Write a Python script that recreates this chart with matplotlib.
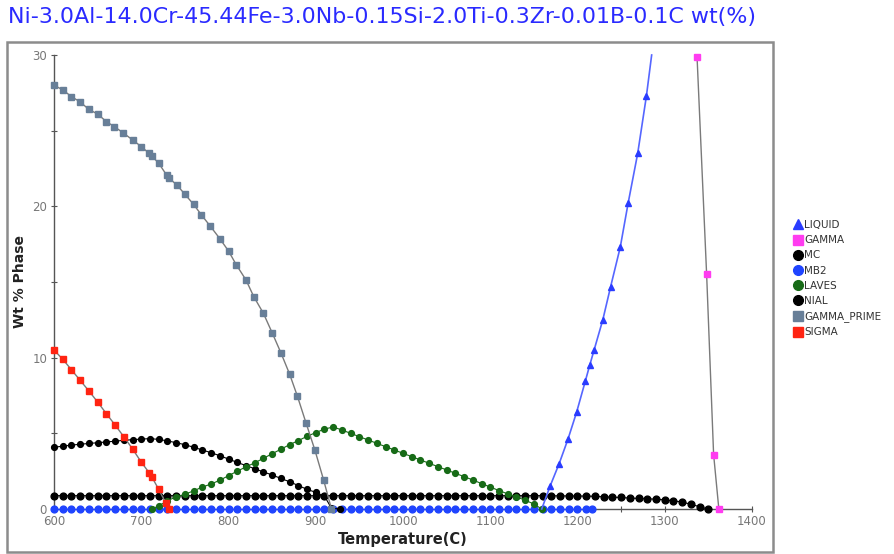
import matplotlib
matplotlib.use("Agg")
import matplotlib.pyplot as plt
from matplotlib.patches import Rectangle
from matplotlib.lines import Line2D

TITLE = "Ni-3.0Al-14.0Cr-45.44Fe-3.0Nb-0.15Si-2.0Ti-0.3Zr-0.01B-0.1C wt(%)"

# ---- phase data: temperature (C) and weight percent ----
liquid_t = [1159, 1168.5, 1179, 1189, 1199, 1209, 1214, 1219, 1229, 1238, 1249, 1258, 1269, 1279, 1285]
liquid_w = [0.0, 1.5, 3.0, 4.6, 6.4, 8.46, 9.5, 10.5, 12.5, 14.7, 17.3, 20.2, 23.5, 27.3, 30.0]

gamma_t = [1337, 1348, 1356, 1362]
gamma_w = [29.9, 15.5, 3.6, 0.0]

mc_t = [600, 610, 620, 630, 640, 650, 660, 670, 680, 690,
        700, 710, 720, 730, 740, 750, 760, 770, 780, 790,
        800, 810, 820, 830, 840, 850, 860, 870, 880, 890,
        900, 910, 920, 930, 940, 950, 960, 970, 980, 990,
        1000, 1010, 1020, 1030, 1040, 1050, 1060, 1070, 1080, 1090,
        1100, 1110, 1120, 1130, 1140, 1150, 1160, 1170, 1180, 1190,
        1200, 1210, 1220, 1230, 1240, 1250, 1260, 1270, 1280, 1290,
        1300, 1310, 1320, 1330, 1340, 1349]
mc_w = [0.88, 0.88, 0.88, 0.88, 0.88, 0.88, 0.88, 0.88, 0.88, 0.88,
        0.88, 0.88, 0.88, 0.88, 0.88, 0.88, 0.88, 0.88, 0.88, 0.88,
        0.88, 0.88, 0.88, 0.88, 0.88, 0.88, 0.88, 0.88, 0.88, 0.88,
        0.88, 0.88, 0.88, 0.88, 0.88, 0.88, 0.88, 0.88, 0.88, 0.88,
        0.88, 0.88, 0.88, 0.88, 0.88, 0.88, 0.88, 0.88, 0.88, 0.88,
        0.88, 0.88, 0.88, 0.88, 0.88, 0.88, 0.88, 0.87, 0.87, 0.86,
        0.86, 0.85, 0.84, 0.80, 0.78, 0.76, 0.72, 0.70, 0.67, 0.65,
        0.60, 0.54, 0.46, 0.31, 0.15, 0.0]

mb2_t = [600, 610, 620, 630, 640, 650, 660, 670, 680, 690,
         700, 710, 720, 730, 740, 750, 760, 770, 780, 790,
         800, 810, 820, 830, 840, 850, 860, 870, 880, 890,
         900, 910, 920, 930, 940, 950, 960, 970, 980, 990,
         1000, 1010, 1020, 1030, 1040, 1050, 1060, 1070, 1080, 1090,
         1100, 1110, 1120, 1130, 1140, 1150, 1160, 1170, 1180, 1190,
         1200, 1210, 1217]
mb2_w = [0.02, 0.02, 0.02, 0.02, 0.02, 0.02, 0.02, 0.02, 0.02, 0.02,
         0.02, 0.02, 0.02, 0.02, 0.02, 0.02, 0.02, 0.02, 0.02, 0.02,
         0.02, 0.02, 0.02, 0.02, 0.02, 0.02, 0.02, 0.02, 0.02, 0.02,
         0.02, 0.02, 0.02, 0.02, 0.02, 0.02, 0.02, 0.02, 0.02, 0.02,
         0.02, 0.02, 0.02, 0.02, 0.02, 0.02, 0.02, 0.02, 0.02, 0.02,
         0.02, 0.02, 0.02, 0.02, 0.02, 0.02, 0.02, 0.02, 0.02, 0.02,
         0.02, 0.02, 0.02]

laves_t = [712, 720, 730, 740, 750, 760, 770, 780, 790, 800,
           810, 820, 830, 840, 850, 860, 870, 880, 890, 900,
           910, 920, 930, 940, 950, 960, 970, 980, 990, 1000,
           1010, 1020, 1030, 1040, 1050, 1060, 1070, 1080, 1090, 1100,
           1110, 1120, 1130, 1140, 1150, 1159]
laves_w = [0.0, 0.2, 0.55, 0.8, 0.97, 1.2, 1.45, 1.65, 1.9, 2.2,
           2.5, 2.78, 3.05, 3.35, 3.65, 3.95, 4.25, 4.52, 4.8, 5.05,
           5.28, 5.42, 5.22, 5.0, 4.78, 4.56, 4.34, 4.12, 3.9, 3.68,
           3.46, 3.24, 3.02, 2.8, 2.58, 2.36, 2.14, 1.92, 1.68, 1.45,
           1.22, 1.0, 0.8, 0.58, 0.33, 0.0]

nial_t = [600, 610, 620, 630, 640, 650, 660, 670, 680, 690,
          700, 710, 720, 730, 740, 750, 760, 770, 780, 790,
          800, 810, 820, 830, 840, 850, 860, 870, 880, 890,
          900, 910, 918, 928]
nial_w = [4.08, 4.15, 4.22, 4.28, 4.33, 4.38, 4.43, 4.48, 4.54, 4.58,
          4.62, 4.65, 4.6, 4.5, 4.38, 4.25, 4.08, 3.9, 3.72, 3.52,
          3.3, 3.08, 2.87, 2.66, 2.45, 2.25, 2.02, 1.8, 1.55, 1.3,
          1.1, 0.85, 0.05, 0.0]

gprime_t = [600, 610, 620, 630, 640, 650, 660, 669, 679, 690,
            700, 709, 712, 720, 729, 732, 741, 750, 760, 769,
            779, 790, 800, 809, 820, 829, 840, 850, 860, 870,
            879, 889, 899, 909, 918]
gprime_w = [28.0, 27.7, 27.25, 26.9, 26.4, 26.1, 25.6, 25.27, 24.87, 24.39,
            23.95, 23.5, 23.33, 22.85, 22.07, 21.86, 21.4, 20.8, 20.13, 19.43,
            18.7, 17.87, 17.05, 16.13, 15.14, 14.03, 12.93, 11.65, 10.33, 8.92,
            7.45, 5.66, 3.9, 1.92, 0.0]

sigma_t = [600, 610, 620, 630, 640, 650, 660, 670, 680, 690,
           700, 709, 712, 720, 728, 732]
sigma_w = [10.5, 9.9, 9.2, 8.5, 7.8, 7.07, 6.3, 5.55, 4.78, 3.97,
           3.1, 2.4, 2.13, 1.3, 0.4, 0.0]

x_ticks = [600, 700, 800, 900, 1000, 1100, 1200, 1300, 1400]
y_ticks = [0, 10, 20, 30]

# ---- colours ----
C_LIQUID = "#2a3cff"
C_GAMMA = "#ff3cf0"
C_BLACK = "#000000"
C_MB2 = "#1f44ff"
C_LAVES = "#176b17"
C_GPRIME = "#687f98"
C_SIGMA = "#ff2412"
C_LINE = "#7a7a7a"

W, H = 895, 554
fig = plt.figure(figsize=(W / 100, H / 100), dpi=100)
fig.patch.set_facecolor("white")


def fx(px):
    return px / W


def fy(py):
    return 1 - py / H


# outer frame around the plotting area
fig.patches.append(Rectangle((fx(7), fy(552)), fx(773) - fx(7), fy(42) - fy(552),
                             transform=fig.transFigure, fill=False,
                             edgecolor="#8c8c8c", linewidth=1.8, zorder=0))

AX_L, AX_R, AX_T, AX_B = 54, 752, 55, 509
ax = fig.add_axes([fx(AX_L), fy(AX_B), fx(AX_R) - fx(AX_L), fy(AX_T) - fy(AX_B)])
ax.set_facecolor("none")
ax.set_xlim(600, 1400)
ax.set_ylim(0, 30)

for s in ("top", "right"):
    ax.spines[s].set_visible(False)
for s in ("left", "bottom"):
    ax.spines[s].set_color("#555555")
    ax.spines[s].set_linewidth(1.0)

ax.set_xticks(x_ticks)
ax.set_yticks(y_ticks)
ax.set_xticks([650, 750, 850, 950, 1050, 1150, 1250, 1350], minor=True)
ax.set_yticks([5, 15, 25], minor=True)
ax.tick_params(which="both", direction="inout", length=4, width=0.8, color="#555555",
               labelsize=8.5, labelcolor="#777777")
ax.tick_params(axis="y", pad=3)
ax.tick_params(axis="x", pad=2)

ms_c = 4.9
ms_s = 4.9

ax.plot(mb2_t, mb2_w, color=C_MB2, lw=0.8, marker="o", ms=ms_c, mec=C_MB2, mfc=C_MB2,
        zorder=3, clip_on=False)
ax.plot(mc_t, mc_w, color=C_BLACK, lw=0.8, marker="o", ms=ms_c, zorder=3, clip_on=False)
ax.plot(nial_t, nial_w, color=C_BLACK, lw=0.8, marker="o", ms=ms_c * 0.85, zorder=3,
        clip_on=False)
ax.plot(laves_t, laves_w, color=C_LAVES, lw=0.8, marker="o", ms=ms_c * 0.85, zorder=4,
        clip_on=False)
ax.plot(gprime_t, gprime_w, color=C_LINE, lw=1.0, marker="s", ms=ms_s, mfc=C_GPRIME,
        mec=C_GPRIME, zorder=5, clip_on=False)
ax.plot(sigma_t, sigma_w, color=C_LINE, lw=1.0, marker="s", ms=ms_s, mfc=C_SIGMA,
        mec=C_SIGMA, zorder=5, clip_on=False)
ax.plot(liquid_t, liquid_w, color="#5566ff", lw=1.2, zorder=5, clip_on=False)
ax.plot(liquid_t[1:-1], liquid_w[1:-1], ls="none", marker="^", ms=4.8, mfc=C_LIQUID,
        mec=C_LIQUID, zorder=6, clip_on=False)
ax.plot(gamma_t, gamma_w, color=C_LINE, lw=1.0, marker="s", ms=ms_s, mfc=C_GAMMA,
        mec=C_GAMMA, zorder=6, clip_on=False)

ax.set_xlabel("Temperature(C)", fontsize=10.5, fontweight="bold", color="#222222")
ax.set_ylabel("Wt % Phase", fontsize=10, fontweight="bold", color="#222222")
ax.xaxis.set_label_coords(0.5, -(532 - AX_B) / (AX_B - AX_T))
ax.yaxis.set_label_coords(-(AX_L - 27) / (AX_R - AX_L), 0.5)

fig.text(fx(8), fy(17), TITLE, fontsize=15.9, color="#2a2aff", ha="left", va="center")

# legend outside the frame
handles = [
    Line2D([], [], ls="none", marker="^", ms=7, mfc=C_LIQUID, mec=C_LIQUID),
    Line2D([], [], ls="none", marker="s", ms=7, mfc=C_GAMMA, mec=C_GAMMA),
    Line2D([], [], ls="none", marker="o", ms=7, mfc=C_BLACK, mec=C_BLACK),
    Line2D([], [], ls="none", marker="o", ms=7, mfc=C_MB2, mec=C_MB2),
    Line2D([], [], ls="none", marker="o", ms=7, mfc=C_LAVES, mec=C_LAVES),
    Line2D([], [], ls="none", marker="o", ms=7, mfc=C_BLACK, mec=C_BLACK),
    Line2D([], [], ls="none", marker="s", ms=7, mfc=C_GPRIME, mec=C_GPRIME),
    Line2D([], [], ls="none", marker="s", ms=7, mfc=C_SIGMA, mec=C_SIGMA),
]
labels = ["LIQUID", "GAMMA", "MC", "MB2", "LAVES", "NIAL", "GAMMA_PRIME", "SIGMA"]
leg = fig.legend(handles, labels, loc="upper left", bbox_to_anchor=(fx(794), fy(220)),
                 frameon=False, fontsize=7.5, handlelength=0.8, handletextpad=0.2,
                 labelspacing=0.5, borderpad=0, borderaxespad=0)
for t in leg.get_texts():
    t.set_color("#333333")

fig.savefig("out.png", dpi=100)
